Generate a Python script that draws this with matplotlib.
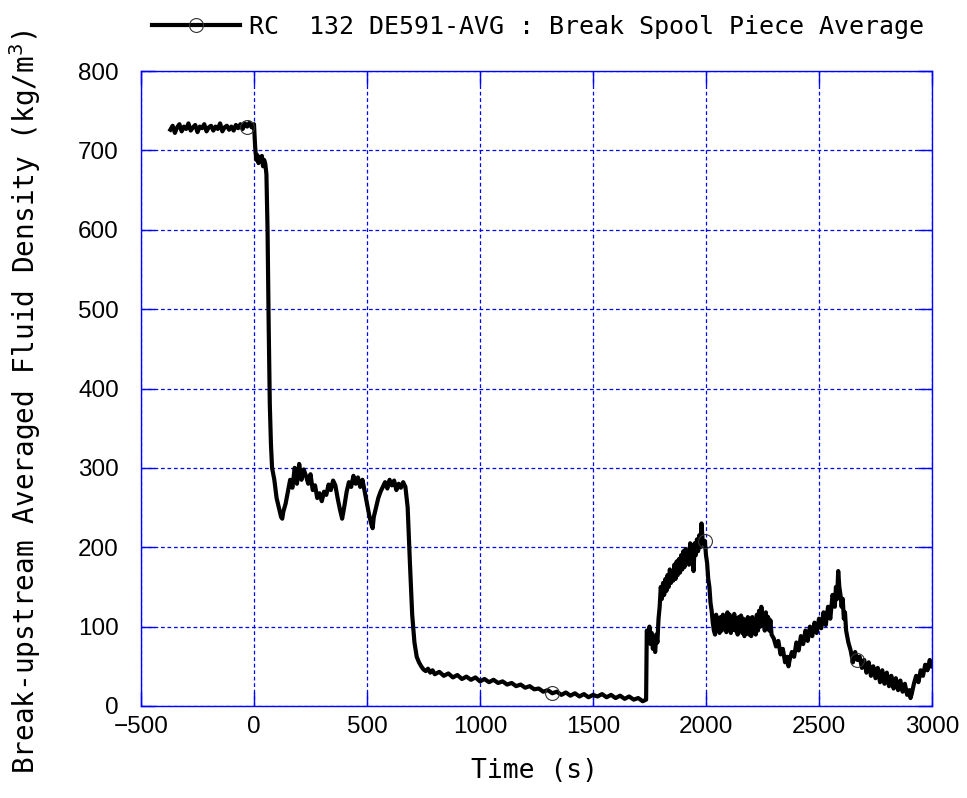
import numpy as np
import matplotlib
matplotlib.use("Agg")
import matplotlib.pyplot as plt

# time (s) and break-upstream averaged fluid density (kg/m3)
time_s = [-370, -360, -350, -340, -330, -320, -310, -300, -290, -280, -270, -260,
          -250, -240, -230, -220, -210, -200, -190, -180, -170, -160, -150, -140,
          -130, -120, -110, -100, -90, -80, -70, -60, -50, -40, -30, -20, -10, 0,
          5, 10, 15, 20, 25, 30, 35, 40, 45, 50, 55, 60, 65, 70, 75, 80, 90, 100,
          110, 120, 125, 130, 140, 150, 160, 170, 180, 190, 200, 210, 220, 230, 240,
          250, 260, 270, 280, 290, 300, 310, 320, 330, 340, 350, 360, 370, 380, 390,
          400, 410, 420, 430, 440, 450, 460, 470, 480, 490, 500, 510, 520, 525, 530,
          540, 550, 560, 570, 580, 590, 600, 610, 620, 630, 640, 650, 660, 670, 680,
          690, 700, 710, 720, 730, 740, 750, 760, 770, 780, 790, 800, 820, 840, 860,
          880, 900, 920, 940, 960, 980, 1000, 1020, 1040, 1060, 1080, 1100, 1120,
          1140, 1160, 1180, 1200, 1220, 1240, 1260, 1280, 1300, 1320, 1340, 1360,
          1380, 1400, 1420, 1440, 1460, 1480, 1500, 1520, 1540, 1560, 1580, 1600,
          1620, 1640, 1660, 1680, 1700, 1720, 1735, 1738, 1745, 1750, 1755, 1760,
          1765, 1770, 1775, 1780, 1785, 1790, 1795, 1800, 1805, 1810, 1815, 1820,
          1825, 1830, 1835, 1840, 1845, 1850, 1855, 1860, 1865, 1870, 1875, 1880,
          1885, 1890, 1895, 1900, 1905, 1910, 1915, 1920, 1925, 1930, 1935, 1940,
          1945, 1950, 1955, 1960, 1965, 1970, 1975, 1980, 1985, 1990, 1995, 2000,
          2005, 2010, 2015, 2020, 2025, 2030, 2035, 2040, 2045, 2050, 2055, 2060,
          2065, 2070, 2075, 2080, 2085, 2090, 2095, 2100, 2105, 2110, 2115, 2120,
          2125, 2130, 2135, 2140, 2145, 2150, 2155, 2160, 2165, 2170, 2175, 2180,
          2185, 2190, 2195, 2200, 2205, 2210, 2215, 2220, 2225, 2230, 2235, 2240,
          2245, 2250, 2255, 2260, 2265, 2270, 2275, 2280, 2285, 2290, 2300, 2310,
          2320, 2330, 2340, 2350, 2360, 2365, 2370, 2380, 2390, 2400, 2410, 2420,
          2430, 2440, 2450, 2460, 2470, 2480, 2490, 2500, 2510, 2520, 2530, 2540,
          2550, 2560, 2570, 2575, 2580, 2585, 2590, 2595, 2600, 2605, 2610, 2615,
          2620, 2630, 2640, 2650, 2660, 2670, 2680, 2690, 2700, 2710, 2720, 2730,
          2740, 2750, 2760, 2770, 2780, 2790, 2800, 2810, 2820, 2830, 2840, 2850,
          2860, 2870, 2880, 2890, 2900, 2905, 2910, 2920, 2930, 2940, 2950, 2960,
          2970, 2980, 2990, 3000]

density = [726, 731, 722, 729, 733, 724, 730, 727, 734, 725, 729, 732,
           723, 730, 728, 733, 724, 729, 731, 725, 730, 727, 734, 724,
           729, 731, 726, 730, 725, 732, 728, 733, 727, 734, 730, 735, 729, 733,
           705, 688, 694, 684, 691, 686, 693, 680, 688, 683, 670, 600, 480, 380, 330, 300, 285, 262,
           250, 238, 236, 245, 255, 270, 285, 275, 300, 280, 305, 285, 298, 290, 280,
           292, 272, 278, 262, 268, 258, 270, 266, 279, 272, 284, 278, 262, 248, 236,
           252, 270, 282, 276, 290, 280, 288, 276, 285, 270, 255, 240, 228, 224, 238,
           250, 262, 270, 276, 282, 274, 285, 278, 284, 272, 280, 275, 282, 276, 250,
           180, 115, 80, 62, 55, 50, 46, 44, 47, 42, 45, 40, 43, 38, 41,
           36, 39, 34, 37, 33, 36, 31, 34, 30, 33, 29, 31, 27,
           29, 25, 27, 23, 25, 21, 22, 18, 20, 16, 18, 14,
           17, 13, 16, 12, 15, 11, 14, 12, 15, 11, 14, 10,
           13, 9, 12, 8, 10, 6, 8, 95, 88, 100, 78, 92,
           72, 85, 68, 90, 80, 110, 125, 150, 135, 155, 140, 160,
           145, 165, 150, 172, 155, 170, 158, 178, 160, 182, 165, 185,
           168, 190, 172, 195, 175, 198, 180, 195, 178, 205, 185, 200,
           170, 205, 190, 210, 195, 215, 200, 230, 210, 205, 208, 190,
           180, 160, 150, 130, 120, 105, 95, 90, 115, 95, 110, 92,
           112, 95, 115, 98, 112, 93, 118, 100, 115, 92, 112, 96,
           116, 95, 110, 90, 112, 95, 114, 92, 110, 88, 108, 92,
           112, 90, 110, 88, 112, 94, 108, 90, 115, 95, 120, 100,
           125, 105, 115, 95, 118, 98, 112, 95, 108, 90, 85, 75,
           82, 65, 72, 55, 62, 50, 58, 68, 62, 80, 70, 88,
           78, 95, 82, 100, 88, 105, 92, 110, 98, 118, 102, 125,
           110, 140, 125, 150, 135, 170, 150, 140, 125, 135, 110, 118,
           95, 80, 70, 55, 68, 58, 62, 48, 58, 42, 55, 38,
           50, 35, 48, 30, 45, 28, 42, 25, 38, 22, 35, 20,
           32, 18, 28, 14, 20, 10, 15, 28, 38, 30, 45, 38,
           52, 45, 58, 50]

marker_times = [-30, 1320, 1995, 2670]
legend_label = "RC  132 DE591-AVG : Break Spool Piece Average"

x_ticks = [-500, 0, 500, 1000, 1500, 2000, 2500, 3000]
y_ticks = [0, 100, 200, 300, 400, 500, 600, 700, 800]

mono = ["DejaVu Sans Mono"]
tickfont = ["Liberation Sans", "DejaVu Sans"]
blue = "#0000ff"

fig = plt.figure(figsize=(9.67, 7.98), dpi=100)
ax = fig.add_axes([0.1458, 0.1153, 0.8180, 0.7957])

marks = list(np.searchsorted(time_s, marker_times))
ax.plot(time_s, density, color="black", lw=3.0, marker="o", markevery=marks,
        markersize=10, markerfacecolor="none", markeredgecolor="#333333",
        markeredgewidth=0.8, label=legend_label)

ax.set_xlim(-500, 3000)
ax.set_ylim(0, 800)
ax.set_xticks(x_ticks)
ax.set_yticks(y_ticks)
ax.grid(True, color=blue, linestyle=(0, (3, 2.2)), linewidth=0.9)
for sp in ax.spines.values():
    sp.set_color(blue)
    sp.set_linewidth(1.0)
ax.tick_params(axis="both", direction="in", length=10, width=1.0, color=blue,
               top=True, right=True)
ax.tick_params(axis="x", pad=7)
ax.tick_params(axis="y", pad=16)
for lab in ax.get_xticklabels() + ax.get_yticklabels():
    lab.set_family(tickfont)
    lab.set_fontsize(17.5)

ax.set_xlabel("Time (s)", family=mono, fontsize=19)
ax.xaxis.set_label_coords(0.498, -0.082)
ax.set_ylabel("Break-upstream Averaged Fluid Density (kg/m$^3$)", family=mono, fontsize=20)
ax.yaxis.set_label_coords(-0.124, 0.479)

leg = fig.legend(loc="center left", bbox_to_anchor=(0.1572, 0.9662), frameon=False,
                 borderpad=0, borderaxespad=0, handlelength=3.5, handletextpad=0.36,
                 prop={"family": mono, "size": 18})

fig.savefig("out.png", dpi=100)
